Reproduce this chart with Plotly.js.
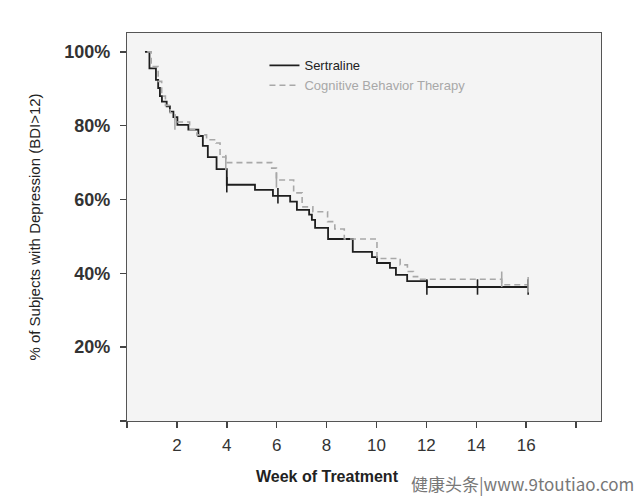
<!DOCTYPE html>
<html>
<head>
<meta charset="utf-8">
<script src="https://cdn.plot.ly/plotly-3.0.1.min.js"></script>
<style>
html,body{margin:0;padding:0;background:#ffffff;}
#chart{width:640px;height:499px;}
</style>
</head>
<body>
<div id="chart"></div>
<script>
// Sertraline Kaplan-Meier steps (week, % still depressed)
const sertWeeks = [0.72, 0.90, 1.16, 1.25, 1.32, 1.40, 1.59, 1.72, 1.86, 2.02, 2.46, 2.86, 3.04, 3.24, 3.59, 4.00, 5.13, 5.85, 6.54, 6.81, 7.30, 7.41, 7.54, 8.06, 9.05, 9.82, 10.02, 10.54, 10.78, 11.23, 12.02, 16.08];
const sertSurv  = [100, 95.5, 92.4, 90.2, 88.0, 86.5, 85.2, 83.8, 82.3, 80.2, 78.9, 77.2, 74.5, 71.5, 68.2, 64.0, 62.6, 61.0, 59.4, 57.2, 55.9, 54.5, 52.3, 49.3, 45.8, 44.4, 42.8, 41.5, 39.6, 37.9, 36.3, 36.3];
const sertCensorWeeks = [4.00, 6.05, 12.02, 14.05, 16.08];
const sertCensorSurv  = [64.0, 61.0, 36.3, 36.3, 36.3];

// Cognitive Behavior Therapy Kaplan-Meier steps
const cbtWeeks = [0.81, 0.97, 1.25, 1.39, 1.54, 1.73, 1.92, 2.51, 2.80, 3.19, 3.57, 3.73, 3.96, 5.80, 5.99, 6.68, 7.02, 7.45, 8.04, 8.33, 8.71, 10.02, 10.95, 11.24, 11.48, 11.72, 15.02, 16.08];
const cbtSurv  = [100, 96.0, 92.0, 88.0, 85.5, 83.5, 81.0, 78.9, 77.5, 76.2, 75.3, 71.5, 70.0, 68.5, 65.3, 61.8, 58.0, 56.7, 54.0, 52.0, 49.3, 44.0, 42.3, 40.5, 39.1, 38.4, 36.9, 36.9];
const cbtCensorWeeks = [1.92, 3.96, 5.99, 15.02, 16.08];
const cbtCensorSurv  = [81.0, 70.0, 65.3, 38.4, 36.9];

const xTickVals = [0, 2, 4, 6, 8, 10, 12, 14, 16, 18];
const xTickText = ['', '2', '4', '6', '8', '10', '12', '14', '16', ''];
const yTickVals = [0, 20, 40, 60, 80, 100];
const yTickText = ['', '20%', '40%', '60%', '80%', '100%'];
const xTitle = 'Week of Treatment';
const yTitle = '% of Subjects with Depression (BDI>12)';

const FONT = 'Arial, "Liberation Sans", sans-serif';
const BLACK = '#1e1e1e';
const GRAY = '#a8a8a8';

const traces = [
  {x: sertWeeks, y: sertSurv, type: 'scatter', mode: 'lines', name: 'Sertraline',
   line: {color: BLACK, width: 1.8, shape: 'hv'}},
  {x: cbtWeeks, y: cbtSurv, type: 'scatter', mode: 'lines',
   name: '<span style="color:#a8a8a8">Cognitive Behavior Therapy</span>',
   line: {color: GRAY, width: 1.6, shape: 'hv', dash: '6px,4px'}},
  {x: sertCensorWeeks, y: sertCensorSurv, type: 'scatter', mode: 'markers', showlegend: false,
   marker: {symbol: 'line-ns', size: 11, line: {color: BLACK, width: 1.6}}},
  {x: cbtCensorWeeks, y: cbtCensorSurv, type: 'scatter', mode: 'markers', showlegend: false,
   marker: {symbol: 'line-ns', size: 11, line: {color: GRAY, width: 1.6}}}
];

const layout = {
  width: 640, height: 499,
  paper_bgcolor: '#ffffff',
  plot_bgcolor: '#f4f4f4',
  margin: {l: 127, r: 39, t: 33, b: 78},
  font: {family: FONT, color: '#333333'},
  showlegend: true,
  legend: {x: 0.29, y: 0.955, xanchor: 'left', yanchor: 'top', bgcolor: 'rgba(0,0,0,0)',
           font: {family: FONT, size: 13, color: '#222222'}, itemwidth: 30, tracegroupgap: 0},
  xaxis: {
    range: [0, 19.0], tickvals: xTickVals, ticktext: xTickText,
    ticks: 'outside', ticklen: 6, tickwidth: 1.5, tickcolor: '#444',
    showline: true, linecolor: '#555', linewidth: 1.2, mirror: true,
    showgrid: false, zeroline: false,
    tickfont: {family: FONT, size: 17, color: '#333'},
    ticklabelstandoff: 2
  },
  yaxis: {
    range: [0, 105.1], tickvals: yTickVals, ticktext: yTickText,
    ticks: 'outside', ticklen: 6, tickwidth: 1.5, tickcolor: '#444',
    showline: true, linecolor: '#555', linewidth: 1.2, mirror: true,
    showgrid: false, zeroline: false,
    tickfont: {family: FONT, size: 18, color: '#333', weight: 'bold'},
    ticklabelstandoff: 6,
    title: {text: yTitle, font: {family: FONT, size: 15, color: '#222'}, standoff: 20}
  },
  annotations: [
    {xref: 'paper', yref: 'paper', x: 0.423, y: -0.142, xanchor: 'center', yanchor: 'middle',
     text: '<b>' + xTitle + '</b>', showarrow: false,
     font: {family: FONT, size: 16, color: '#222'}},
    {xref: 'paper', yref: 'paper', x: 1.074, y: -0.198, xanchor: 'right', yanchor: 'bottom',
     text: '健康头条|www.9toutiao.com', showarrow: false,
     font: {family: '"Noto Sans CJK SC", "DejaVu Sans", sans-serif', size: 17, color: '#777777'}}
  ]
};

Plotly.newPlot('chart', traces, layout, {displayModeBar: false, staticPlot: true});
</script>
</body>
</html>
